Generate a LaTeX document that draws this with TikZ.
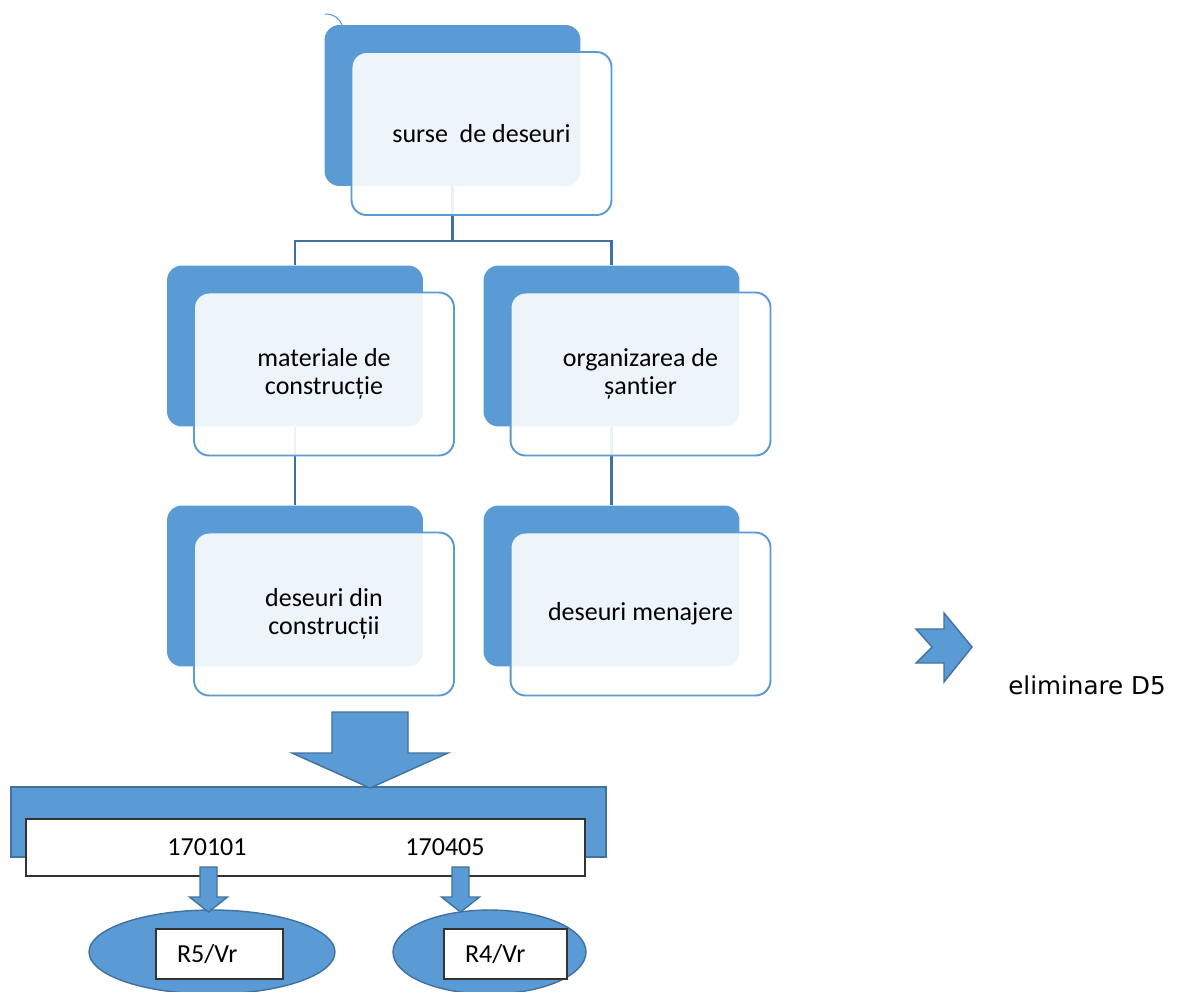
\documentclass[tikz,border=0pt]{standalone}
\usepackage{fontspec}
\setmainfont{Carlito}[Ligatures=NoCommon]
\newfontfamily\verdanafont{DejaVu Sans}
\usepackage{tikz}
\usetikzlibrary{shapes.geometric}
\definecolor{boxblue}{HTML}{5B9BD5}
\definecolor{lineblue}{HTML}{41719C}
\tikzstyle{backbox} = [rectangle, rounded corners=0.3cm, minimum width=5.12cm, minimum height=3.22cm, fill=boxblue, draw=none]
\tikzstyle{frontbox} = [rectangle, rounded corners=0.3cm, minimum width=5.2cm, minimum height=3.26cm, align=center, fill=white, fill opacity=0.9, text opacity=1, draw=boxblue, line width=1.1pt, font=\fontsize{14.8}{16.1}\selectfont]
\tikzstyle{connector} = [draw=lineblue, line width=1.3pt]
\tikzstyle{blockarrow} = [fill=boxblue, draw=lineblue, line width=0.8pt, line join=miter]
\tikzstyle{codebox} = [rectangle, fill=white, draw=black!80, line width=0.8pt, inner sep=0pt]
\tikzstyle{codetext} = [font=\fontsize{14.8}{16.1}\selectfont]
\tikzstyle{recovery} = [ellipse, minimum height=1.68cm, fill=boxblue, draw=lineblue, line width=0.8pt]

\begin{document}
\begin{tikzpicture}[x=0.02cm, y=-0.02cm]
\useasboundingbox (0,0) rectangle (1179,991);

% Back boxes
\node (srcback) [backbox] at (452.5,105.5) {};
\node (matback) [backbox] at (295,346) {};
\node (orgback) [backbox] at (611.5,346) {};
\node (dcback) [backbox] at (295,586) {};
\node (dmback) [backbox] at (611.5,586) {};

% Connectors
\draw [connector] (srcback.south) -- ++(0,55) coordinate (bus) -| (matback.north);
\draw [connector] (bus) -| (orgback.north);
\draw [connector] (matback.south) -- (dcback.north);
\draw [connector] (orgback.south) -- (dmback.north);
\draw [draw=boxblue, line width=0.6pt] (325,14) .. controls (334,14) and (340,19) .. (342,25);

% Front boxes
\node (src) [frontbox] at ([shift={(29,28)}]srcback) {surse\ \ de deseuri};
\node (mat) [frontbox] at ([shift={(29,28)}]matback) {materiale de\\construcție};
\node (org) [frontbox] at ([shift={(29,28)}]orgback) {organizarea de\\șantier};
\node (dc) [frontbox] at ([shift={(29,28)}]dcback) {deseuri din\\construcții};
\node (dm) [frontbox] at ([shift={(29,28)}]dmback) {deseuri menajere};

% Codes
\node (bar) [rectangle, minimum width=11.9cm, minimum height=1.4cm, fill=boxblue, draw=lineblue, line width=0.8pt] at (308.5,822) {};
\node (codes) [codebox, minimum width=11.18cm, minimum height=1.14cm] at (305.5,847.5) {};
\node (c1) [codetext] at (207,847) {170101};
\node (c2) [codetext] at (445,847) {170405};

% Recovery
\node (r5) [recovery, minimum width=4.92cm] at (212,952) {};
\node (r4) [recovery, minimum width=3.86cm] at (489.5,952) {};
\node (r5box) [codebox, codetext, text width=1.70cm, inner xsep=0.42cm, minimum height=1.0cm, align=left] at (219.5,954) {R5/Vr};
\node (r4box) [codebox, codetext, text width=1.62cm, inner xsep=0.42cm, minimum height=1.0cm, align=left] at (505.5,954) {R4/Vr};

% Arrows
\foreach \cx/\sw/\hw/\ya/\yb/\yc in {370/38/78/712/753/788, 208.5/8.5/19/867/897/912, 460.5/8.5/19/867/897/912}
  \draw [blockarrow] (\cx-\sw,\ya) -- (\cx+\sw,\ya) -- (\cx+\sw,\yb) -- (\cx+\hw,\yb) -- (\cx,\yc) -- (\cx-\hw,\yb) -- (\cx-\sw,\yb) -- cycle;
\draw [blockarrow] (916,629) -- (944,629) -- (944,613) -- (972,647) -- (944,682) -- (944,663) -- (916,663) -- (932,647) -- cycle;
\node (elim) [font=\verdanafont\fontsize{14}{16}\selectfont] at (1087,685) {eliminare D5};

\end{tikzpicture}
\end{document}
